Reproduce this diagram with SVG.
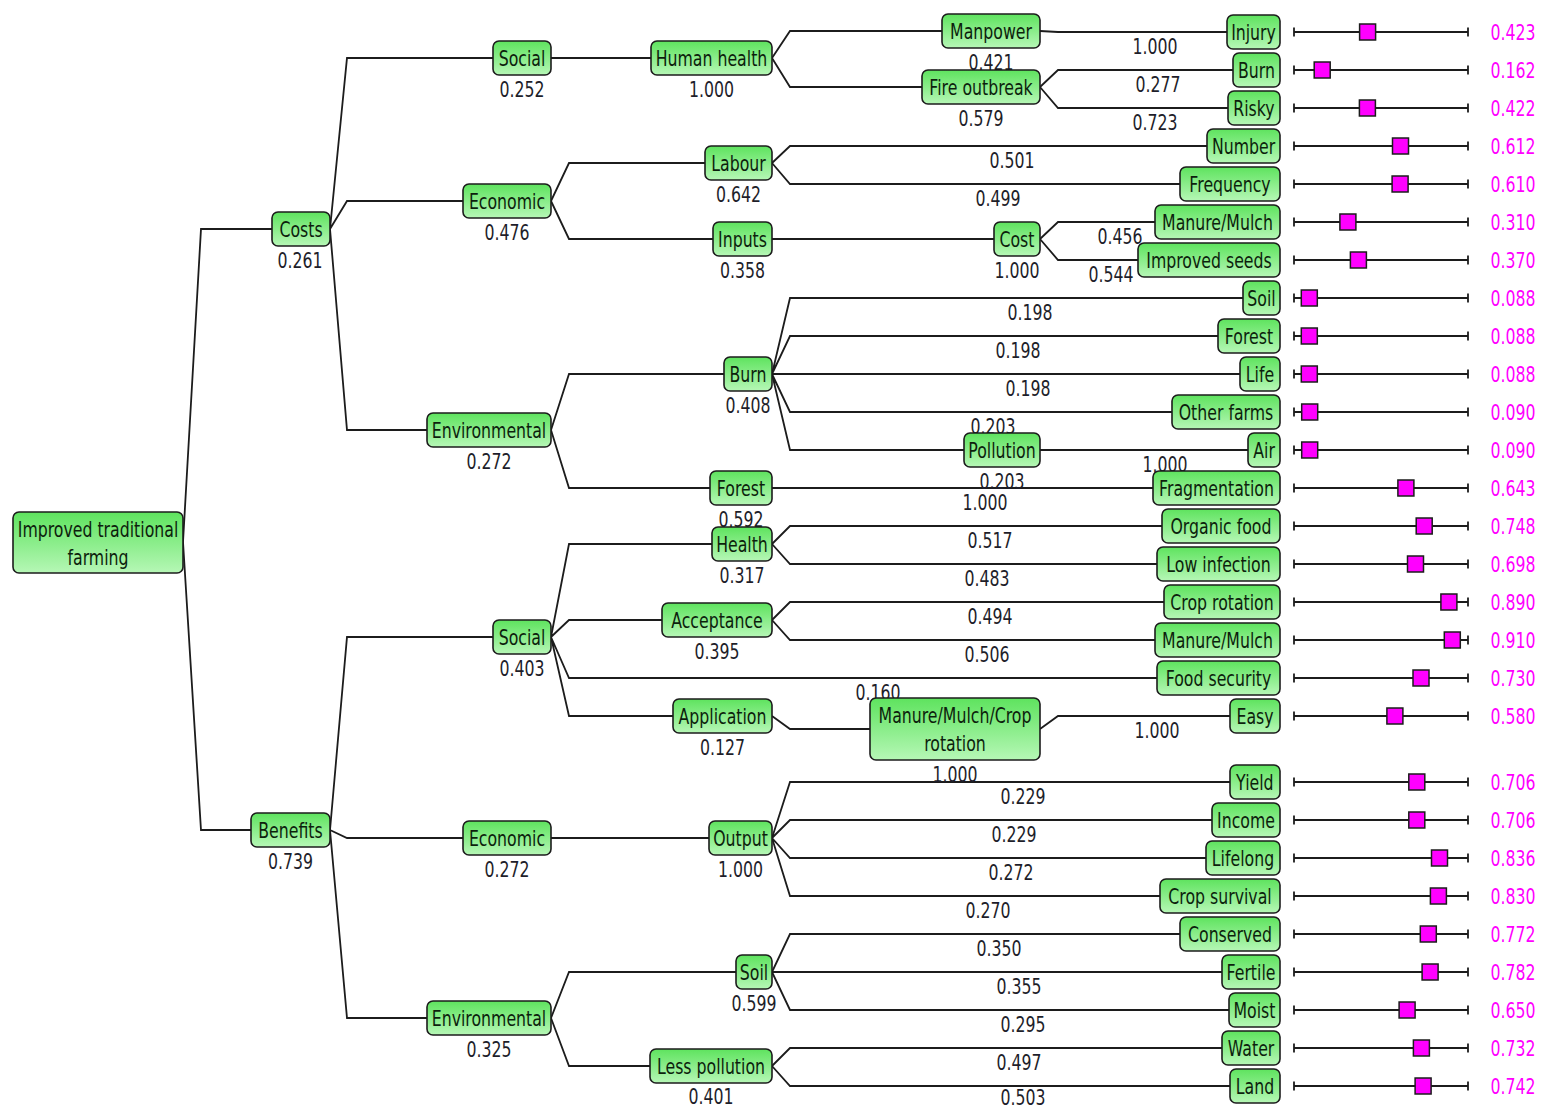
<svg xmlns="http://www.w3.org/2000/svg" xmlns:xlink="http://www.w3.org/1999/xlink" width="1541" height="1109" viewBox="0 0 1541 1109">
<defs>
<linearGradient id="g" x1="0" y1="0" x2="0" y2="1">
<stop offset="0" stop-color="#5ee35e"/>
<stop offset="1" stop-color="#b6f7b6"/>
</linearGradient>
<g id="trk">
<line x1="1294" y1="0" x2="1468" y2="0"/>
<line x1="1294" y1="-4.5" x2="1294" y2="4.5"/>
<line x1="1468" y1="-4.5" x2="1468" y2="4.5"/>
</g>
</defs>
<style>
.n rect{fill:url(#g);stroke:#1c1c1c;stroke-width:1.6}
text{font-family:"DejaVu Sans",sans-serif;font-size:21px;text-anchor:middle;transform-box:fill-box;transform-origin:center;transform:scaleX(.75)}
.l{fill:#0d1f0d}
.v{fill:#1e1e2a}
.m{fill:#ff00ff}
#edges path{fill:none;stroke:#1c1c1c;stroke-width:1.8}
#trk line{stroke:#1c1c1c;stroke-width:1.8}
.n rect.sq{fill:#ff00ff;stroke:#1c1c1c;stroke-width:1.5}
</style>
<rect width="1541" height="1109" fill="#ffffff"/>
<g id="edges">
<path d="M183 542L201 229H272M183 542L201 830H251"/>
<path d="M330 229L347 58H493M330 229L347 201H463M330 229L347 430H427"/>
<path d="M330 830L347 637H493M330 830L347 838H463M330 830L347 1018H427"/>
<path d="M551 58H651"/>
<path d="M551 201L569 163H705M551 201L569 239H713"/>
<path d="M551 430L569 374H724M551 430L569 488H710"/>
<path d="M551 637L569 544H712M551 637L569 620H662M551 637L569 678H1157M551 637L569 716H673"/>
<path d="M551 838H709"/>
<path d="M551 1018L569 972H736M551 1018L569 1066H650"/>
<path d="M772 58L790 31H942M772 58L790 87H922"/>
<path d="M772 163L790 146H1207M772 163L790 184H1180"/>
<path d="M772 239H994"/>
<path d="M772 374L790 298H1243M772 374L790 336H1218M772 374H1240M772 374L790 412H1172M772 374L790 450H964"/>
<path d="M772 488H1153"/>
<path d="M772 544L790 526H1162M772 544L790 564H1157"/>
<path d="M772 620L790 602H1164M772 620L790 640H1155"/>
<path d="M772 716L790 729H870"/>
<path d="M772 838L790 782H1230M772 838L790 820H1212M772 838L790 858H1206M772 838L790 896H1160"/>
<path d="M772 972L790 934H1180M772 972H1222M772 972L790 1010H1229"/>
<path d="M772 1066L790 1048H1222M772 1066L790 1086H1230"/>
<path d="M1040 31L1058 32H1227"/>
<path d="M1040 87L1058 70H1233M1040 87L1058 108H1228"/>
<path d="M1040 239L1058 222H1155M1040 239L1058 260H1138"/>
<path d="M1040 450H1248"/>
<path d="M1040 729L1058 716H1230"/>
<g class="v">
<text class="v" x="1155" y="54">1.000</text>
<text class="v" x="1158" y="92">0.277</text>
<text class="v" x="1155" y="130">0.723</text>
<text class="v" x="1012" y="168">0.501</text>
<text class="v" x="998" y="206">0.499</text>
<text class="v" x="1120" y="244">0.456</text>
<text class="v" x="1111" y="282">0.544</text>
<text class="v" x="1030" y="320">0.198</text>
<text class="v" x="1018" y="358">0.198</text>
<text class="v" x="1028" y="396">0.198</text>
<text class="v" x="993" y="434">0.203</text>
<text class="v" x="1165" y="472">1.000</text>
<text class="v" x="985" y="510">1.000</text>
<text class="v" x="990" y="548">0.517</text>
<text class="v" x="987" y="586">0.483</text>
<text class="v" x="990" y="624">0.494</text>
<text class="v" x="987" y="662">0.506</text>
<text class="v" x="878" y="700">0.160</text>
<text class="v" x="1157" y="738">1.000</text>
<text class="v" x="1023" y="804">0.229</text>
<text class="v" x="1014" y="842">0.229</text>
<text class="v" x="1011" y="880">0.272</text>
<text class="v" x="988" y="918">0.270</text>
<text class="v" x="999" y="956">0.350</text>
<text class="v" x="1019" y="994">0.355</text>
<text class="v" x="1023" y="1032">0.295</text>
<text class="v" x="1019" y="1070">0.497</text>
<text class="v" x="1023" y="1105">0.503</text>
</g>
</g>
<g id="n-root" class="n"><rect x="13" y="512" width="170" height="61" rx="6"/><text class="l" x="98" y="537">Improved traditional</text><text class="l" x="98" y="565">farming</text></g>
<g id="n-costs" class="n"><rect x="272" y="212" width="58" height="34" rx="6"/><text class="l" x="301" y="237">Costs</text><text class="v" x="300" y="268.5">0.261</text></g>
<g id="n-c-social" class="n"><rect x="493" y="41" width="58" height="34" rx="6"/><text class="l" x="522" y="66">Social</text><text class="v" x="522" y="97.5">0.252</text></g>
<g id="n-c-humanhealth" class="n"><rect x="651" y="41" width="121" height="34" rx="6"/><text class="l" x="711.5" y="66">Human health</text><text class="v" x="711.5" y="97.5">1.000</text></g>
<g id="n-c-manpower" class="n"><rect x="942" y="14" width="98" height="34" rx="6"/><text class="l" x="991" y="39">Manpower</text><text class="v" x="991" y="70.5">0.421</text></g>
<g id="n-c-fire" class="n"><rect x="922" y="70" width="118" height="34" rx="6"/><text class="l" x="981" y="95">Fire outbreak</text><text class="v" x="981" y="126.5">0.579</text></g>
<g id="n-c-economic" class="n"><rect x="463" y="184" width="88" height="34" rx="6"/><text class="l" x="507" y="209">Economic</text><text class="v" x="507" y="240.5">0.476</text></g>
<g id="n-c-labour" class="n"><rect x="705" y="146" width="67" height="34" rx="6"/><text class="l" x="738.5" y="171">Labour</text><text class="v" x="738.5" y="202.5">0.642</text></g>
<g id="n-c-inputs" class="n"><rect x="713" y="222" width="59" height="34" rx="6"/><text class="l" x="742.5" y="247">Inputs</text><text class="v" x="742.5" y="278.5">0.358</text></g>
<g id="n-c-cost" class="n"><rect x="994" y="222" width="46" height="34" rx="6"/><text class="l" x="1017" y="247">Cost</text><text class="v" x="1017" y="278.5">1.000</text></g>
<g id="n-c-environmental" class="n"><rect x="427" y="413" width="124" height="34" rx="6"/><text class="l" x="489" y="438">Environmental</text><text class="v" x="489" y="469.5">0.272</text></g>
<g id="n-c-burn" class="n"><rect x="724" y="357" width="48" height="34" rx="6"/><text class="l" x="748" y="382">Burn</text><text class="v" x="748" y="413.5">0.408</text></g>
<g id="n-c-pollution" class="n"><rect x="964" y="433" width="76" height="34" rx="6"/><text class="l" x="1002" y="458">Pollution</text><text class="v" x="1002" y="489.5">0.203</text></g>
<g id="n-c-forest" class="n"><rect x="710" y="471" width="62" height="34" rx="6"/><text class="l" x="741" y="496">Forest</text><text class="v" x="741" y="527.5">0.592</text></g>
<g id="n-benefits" class="n"><rect x="251" y="813" width="79" height="34" rx="6"/><text class="l" x="290.5" y="838">Benefits</text><text class="v" x="290.5" y="869.5">0.739</text></g>
<g id="n-b-social" class="n"><rect x="493" y="620" width="58" height="34" rx="6"/><text class="l" x="522" y="645">Social</text><text class="v" x="522" y="676.5">0.403</text></g>
<g id="n-b-health" class="n"><rect x="712" y="527" width="60" height="34" rx="6"/><text class="l" x="742" y="552">Health</text><text class="v" x="742" y="583.5">0.317</text></g>
<g id="n-b-acceptance" class="n"><rect x="662" y="603" width="110" height="34" rx="6"/><text class="l" x="717" y="628">Acceptance</text><text class="v" x="717" y="659.5">0.395</text></g>
<g id="n-b-application" class="n"><rect x="673" y="699" width="99" height="34" rx="6"/><text class="l" x="722.5" y="724">Application</text><text class="v" x="722.5" y="755.5">0.127</text></g>
<g id="n-b-mmc" class="n"><rect x="870" y="698" width="170" height="62" rx="6"/><text class="l" x="955" y="723">Manure/Mulch/Crop</text><text class="l" x="955" y="751">rotation</text><text class="v" x="955" y="782">1.000</text></g>
<g id="n-b-economic" class="n"><rect x="463" y="821" width="88" height="34" rx="6"/><text class="l" x="507" y="846">Economic</text><text class="v" x="507" y="877.5">0.272</text></g>
<g id="n-b-output" class="n"><rect x="709" y="821" width="63" height="34" rx="6"/><text class="l" x="740.5" y="846">Output</text><text class="v" x="740.5" y="877.5">1.000</text></g>
<g id="n-b-environmental" class="n"><rect x="427" y="1001" width="124" height="34" rx="6"/><text class="l" x="489" y="1026">Environmental</text><text class="v" x="489" y="1057.5">0.325</text></g>
<g id="n-b-soil" class="n"><rect x="736" y="955" width="36" height="34" rx="6"/><text class="l" x="754" y="980">Soil</text><text class="v" x="754" y="1011.5">0.599</text></g>
<g id="n-b-lesspollution" class="n"><rect x="650" y="1049" width="122" height="34" rx="6"/><text class="l" x="711" y="1074">Less pollution</text><text class="v" x="711" y="1104">0.401</text></g>
<g id="leaf-injury" class="n"><rect x="1227" y="15" width="53" height="34" rx="6"/><text class="l" x="1253.5" y="40">Injury</text><use xlink:href="#trk" href="#trk" y="32"/><rect class="sq" x="1359.6" y="24" width="16" height="16"/><text class="m" x="1513" y="40.5">0.423</text></g>
<g id="leaf-burn" class="n"><rect x="1233" y="53" width="47" height="34" rx="6"/><text class="l" x="1256.5" y="78">Burn</text><use xlink:href="#trk" href="#trk" y="70"/><rect class="sq" x="1314.2" y="62" width="16" height="16"/><text class="m" x="1513" y="78.5">0.162</text></g>
<g id="leaf-risky" class="n"><rect x="1228" y="91" width="52" height="34" rx="6"/><text class="l" x="1254" y="116">Risky</text><use xlink:href="#trk" href="#trk" y="108"/><rect class="sq" x="1359.4" y="100" width="16" height="16"/><text class="m" x="1513" y="116.5">0.422</text></g>
<g id="leaf-number" class="n"><rect x="1207" y="129" width="73" height="34" rx="6"/><text class="l" x="1243.5" y="154">Number</text><use xlink:href="#trk" href="#trk" y="146"/><rect class="sq" x="1392.5" y="138" width="16" height="16"/><text class="m" x="1513" y="154.5">0.612</text></g>
<g id="leaf-frequency" class="n"><rect x="1180" y="167" width="100" height="34" rx="6"/><text class="l" x="1230" y="192">Frequency</text><use xlink:href="#trk" href="#trk" y="184"/><rect class="sq" x="1392.1" y="176" width="16" height="16"/><text class="m" x="1513" y="192.5">0.610</text></g>
<g id="leaf-c-manuremulch" class="n"><rect x="1155" y="205" width="125" height="34" rx="6"/><text class="l" x="1217.5" y="230">Manure/Mulch</text><use xlink:href="#trk" href="#trk" y="222"/><rect class="sq" x="1339.9" y="214" width="16" height="16"/><text class="m" x="1513" y="230.5">0.310</text></g>
<g id="leaf-improvedseeds" class="n"><rect x="1138" y="243" width="142" height="34" rx="6"/><text class="l" x="1209" y="268">Improved seeds</text><use xlink:href="#trk" href="#trk" y="260"/><rect class="sq" x="1350.4" y="252" width="16" height="16"/><text class="m" x="1513" y="268.5">0.370</text></g>
<g id="leaf-c-soil" class="n"><rect x="1243" y="281" width="37" height="34" rx="6"/><text class="l" x="1261.5" y="306">Soil</text><use xlink:href="#trk" href="#trk" y="298"/><rect class="sq" x="1301.3" y="290" width="16" height="16"/><text class="m" x="1513" y="306.5">0.088</text></g>
<g id="leaf-c-forest" class="n"><rect x="1218" y="319" width="62" height="34" rx="6"/><text class="l" x="1249" y="344">Forest</text><use xlink:href="#trk" href="#trk" y="336"/><rect class="sq" x="1301.3" y="328" width="16" height="16"/><text class="m" x="1513" y="344.5">0.088</text></g>
<g id="leaf-life" class="n"><rect x="1240" y="357" width="40" height="34" rx="6"/><text class="l" x="1260" y="382">Life</text><use xlink:href="#trk" href="#trk" y="374"/><rect class="sq" x="1301.3" y="366" width="16" height="16"/><text class="m" x="1513" y="382.5">0.088</text></g>
<g id="leaf-otherfarms" class="n"><rect x="1172" y="395" width="108" height="34" rx="6"/><text class="l" x="1226" y="420">Other farms</text><use xlink:href="#trk" href="#trk" y="412"/><rect class="sq" x="1301.7" y="404" width="16" height="16"/><text class="m" x="1513" y="420.5">0.090</text></g>
<g id="leaf-air" class="n"><rect x="1248" y="433" width="32" height="34" rx="6"/><text class="l" x="1264" y="458">Air</text><use xlink:href="#trk" href="#trk" y="450"/><rect class="sq" x="1301.7" y="442" width="16" height="16"/><text class="m" x="1513" y="458.5">0.090</text></g>
<g id="leaf-fragmentation" class="n"><rect x="1153" y="471" width="127" height="34" rx="6"/><text class="l" x="1216.5" y="496">Fragmentation</text><use xlink:href="#trk" href="#trk" y="488"/><rect class="sq" x="1397.9" y="480" width="16" height="16"/><text class="m" x="1513" y="496.5">0.643</text></g>
<g id="leaf-organicfood" class="n"><rect x="1162" y="509" width="118" height="34" rx="6"/><text class="l" x="1221" y="534">Organic food</text><use xlink:href="#trk" href="#trk" y="526"/><rect class="sq" x="1416.2" y="518" width="16" height="16"/><text class="m" x="1513" y="534.5">0.748</text></g>
<g id="leaf-lowinfection" class="n"><rect x="1157" y="547" width="123" height="34" rx="6"/><text class="l" x="1218.5" y="572">Low infection</text><use xlink:href="#trk" href="#trk" y="564"/><rect class="sq" x="1407.5" y="556" width="16" height="16"/><text class="m" x="1513" y="572.5">0.698</text></g>
<g id="leaf-croprotation" class="n"><rect x="1164" y="585" width="116" height="34" rx="6"/><text class="l" x="1222" y="610">Crop rotation</text><use xlink:href="#trk" href="#trk" y="602"/><rect class="sq" x="1440.9" y="594" width="16" height="16"/><text class="m" x="1513" y="610.5">0.890</text></g>
<g id="leaf-b-manuremulch" class="n"><rect x="1155" y="623" width="125" height="34" rx="6"/><text class="l" x="1217.5" y="648">Manure/Mulch</text><use xlink:href="#trk" href="#trk" y="640"/><rect class="sq" x="1444.3" y="632" width="16" height="16"/><text class="m" x="1513" y="648.5">0.910</text></g>
<g id="leaf-foodsecurity" class="n"><rect x="1157" y="661" width="123" height="34" rx="6"/><text class="l" x="1218.5" y="686">Food security</text><use xlink:href="#trk" href="#trk" y="678"/><rect class="sq" x="1413" y="670" width="16" height="16"/><text class="m" x="1513" y="686.5">0.730</text></g>
<g id="leaf-easy" class="n"><rect x="1230" y="699" width="50" height="34" rx="6"/><text class="l" x="1255" y="724">Easy</text><use xlink:href="#trk" href="#trk" y="716"/><rect class="sq" x="1386.9" y="708" width="16" height="16"/><text class="m" x="1513" y="724.5">0.580</text></g>
<g id="leaf-yield" class="n"><rect x="1230" y="765" width="50" height="34" rx="6"/><text class="l" x="1255" y="790">Yield</text><use xlink:href="#trk" href="#trk" y="782"/><rect class="sq" x="1408.8" y="774" width="16" height="16"/><text class="m" x="1513" y="790.5">0.706</text></g>
<g id="leaf-income" class="n"><rect x="1212" y="803" width="68" height="34" rx="6"/><text class="l" x="1246" y="828">Income</text><use xlink:href="#trk" href="#trk" y="820"/><rect class="sq" x="1408.8" y="812" width="16" height="16"/><text class="m" x="1513" y="828.5">0.706</text></g>
<g id="leaf-lifelong" class="n"><rect x="1206" y="841" width="74" height="34" rx="6"/><text class="l" x="1243" y="866">Lifelong</text><use xlink:href="#trk" href="#trk" y="858"/><rect class="sq" x="1431.5" y="850" width="16" height="16"/><text class="m" x="1513" y="866.5">0.836</text></g>
<g id="leaf-cropsurvival" class="n"><rect x="1160" y="879" width="120" height="34" rx="6"/><text class="l" x="1220" y="904">Crop survival</text><use xlink:href="#trk" href="#trk" y="896"/><rect class="sq" x="1430.4" y="888" width="16" height="16"/><text class="m" x="1513" y="904.5">0.830</text></g>
<g id="leaf-conserved" class="n"><rect x="1180" y="917" width="100" height="34" rx="6"/><text class="l" x="1230" y="942">Conserved</text><use xlink:href="#trk" href="#trk" y="934"/><rect class="sq" x="1420.3" y="926" width="16" height="16"/><text class="m" x="1513" y="942.5">0.772</text></g>
<g id="leaf-fertile" class="n"><rect x="1222" y="955" width="58" height="34" rx="6"/><text class="l" x="1251" y="980">Fertile</text><use xlink:href="#trk" href="#trk" y="972"/><rect class="sq" x="1422.1" y="964" width="16" height="16"/><text class="m" x="1513" y="980.5">0.782</text></g>
<g id="leaf-moist" class="n"><rect x="1229" y="993" width="51" height="34" rx="6"/><text class="l" x="1254.5" y="1018">Moist</text><use xlink:href="#trk" href="#trk" y="1010"/><rect class="sq" x="1399.1" y="1002" width="16" height="16"/><text class="m" x="1513" y="1018.5">0.650</text></g>
<g id="leaf-water" class="n"><rect x="1222" y="1031" width="58" height="34" rx="6"/><text class="l" x="1251" y="1056">Water</text><use xlink:href="#trk" href="#trk" y="1048"/><rect class="sq" x="1413.4" y="1040" width="16" height="16"/><text class="m" x="1513" y="1056.5">0.732</text></g>
<g id="leaf-land" class="n"><rect x="1230" y="1069" width="50" height="34" rx="6"/><text class="l" x="1255" y="1094">Land</text><use xlink:href="#trk" href="#trk" y="1086"/><rect class="sq" x="1415.1" y="1078" width="16" height="16"/><text class="m" x="1513" y="1094.5">0.742</text></g>
</svg>
